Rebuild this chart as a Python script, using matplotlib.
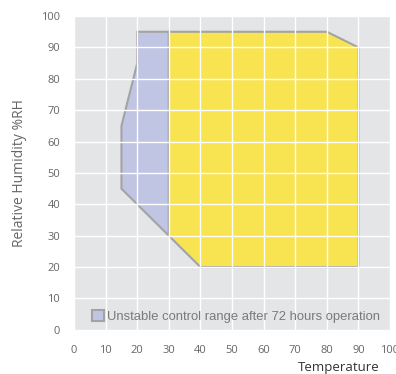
import matplotlib.pyplot as plt
from matplotlib.patches import Polygon, Patch

plt.rcParams['font.family'] = ['Open Sans', 'DejaVu Sans']

# stable operating range (temperature, humidity)
stable_t = [30, 80, 90, 90, 40, 30]
stable_rh = [95, 95, 90, 20, 20, 30]
# unstable range after 72 h
unstable_t = [20, 30, 30, 15, 15, 20]
unstable_rh = [95, 95, 30, 45, 65, 85]
legend_label = 'Unstable control range after 72 hours operation'

fig = plt.figure(figsize=(3.96, 3.74), dpi=100)
ax = fig.add_axes([0.187, 0.118, 0.798, 0.839])
ax.set_facecolor('#e4e5e7')

ax.add_patch(Polygon(list(zip(unstable_t, unstable_rh)), closed=True, facecolor='#c0c5e4',
                     edgecolor='#a3a3a6', linewidth=1.5, zorder=1))
ax.add_patch(Polygon(list(zip(stable_t, stable_rh)), closed=True, facecolor='#f8e351',
                     edgecolor='#a3a3a6', linewidth=1.5, zorder=1))

ax.set_xlim(0, 100)
ax.set_ylim(0, 100)
ax.set_xticks(range(0, 101, 10))
ax.set_yticks(range(0, 101, 10))
ax.grid(True, color='white', linewidth=1.0)
for g in ax.get_xgridlines() + ax.get_ygridlines():
    g.set_zorder(2)
for s in ax.spines.values():
    s.set_visible(False)
ax.tick_params(length=0, labelsize=8, labelcolor='#666666')
ax.tick_params(axis='x', pad=11)
ax.tick_params(axis='y', pad=10)

ax.set_ylabel('Relative Humidity %RH', fontsize=10, color='#666666', labelpad=10)
fig.text(0.855, 0.0, 'Temperature', fontsize=9.5, color='#333333', ha='center', va='bottom')

leg = ax.legend(handles=[Patch(facecolor='#c0c5e4', edgecolor='#a3a3a6', linewidth=1.5, label=legend_label)],
                loc='lower left', bbox_to_anchor=(0.04, 0.005), frameon=False,
                handlelength=0.9, handleheight=0.9, handletextpad=0.25, borderaxespad=0,
                prop={'family': 'Liberation Sans', 'size': 9.4})
for t in leg.get_texts():
    t.set_color('#7a7a7a')

fig.savefig('out.png', dpi=100)
